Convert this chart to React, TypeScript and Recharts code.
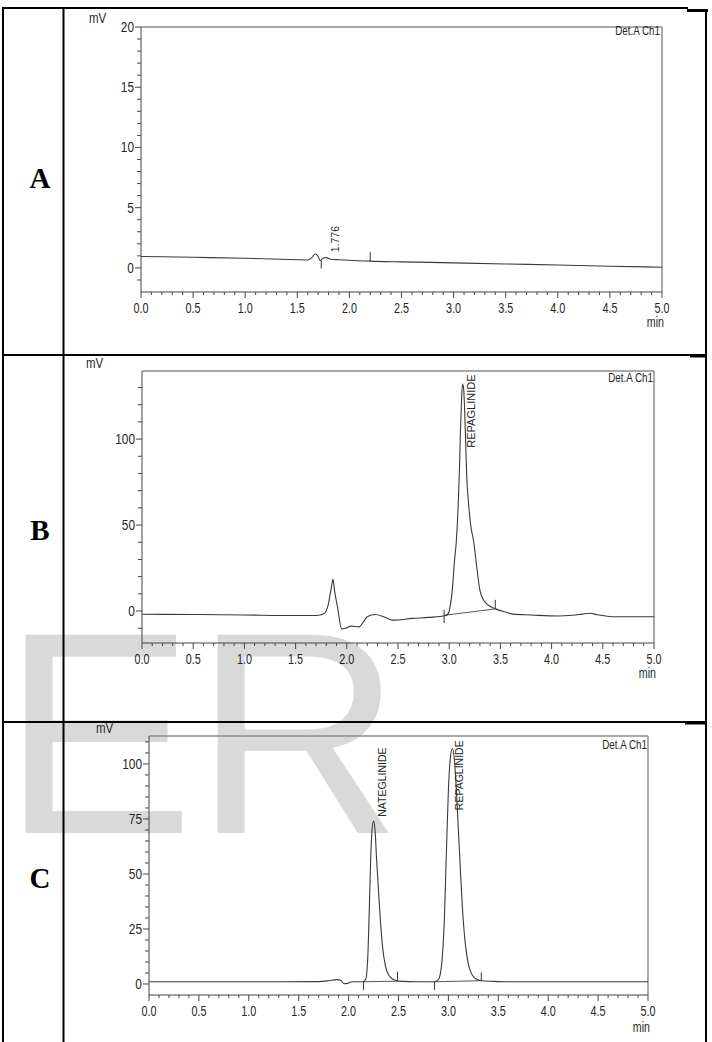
import React from 'react';
import { Line, LineChart, ReferenceDot, ReferenceLine, XAxis, YAxis } from 'recharts';

const SANS = "'Liberation Sans', Arial, sans-serif";
const SERIF = "'Liberation Serif', 'Times New Roman', serif";
const INK = '#262626';
const AXIS = '#444';
const FRAME = '#8c8c8c';

// [retention time (min), signal (mV)]
const traceA: [number, number][] = [
  [0, 0.95], [0.5, 0.88], [1.0, 0.8], [1.5, 0.68], [1.6, 0.66], [1.64, 0.85],
  [1.67, 1.15], [1.7, 0.95], [1.72, 0.6], [1.75, 0.82], [1.78, 0.85], [1.82, 0.72],
  [1.9, 0.68], [2.0, 0.63], [2.2, 0.56], [2.5, 0.5], [3.0, 0.42], [3.5, 0.33],
  [4.0, 0.24], [4.5, 0.14], [5.0, 0.06],
];

const traceB: [number, number][] = [
  [0, -1.9], [0.5, -2.0], [1.0, -2.3], [1.5, -2.6], [1.7, -2.6], [1.78, -1.4],
  [1.82, 4], [1.85, 14], [1.865, 18.6], [1.88, 12], [1.91, 2], [1.95, -10.5],
  [1.99, -10], [2.04, -8.8], [2.12, -9.2], [2.16, -6.5], [2.2, -3.3], [2.28, -2.0],
  [2.36, -3.3], [2.45, -5.3], [2.64, -4.3], [2.8, -3.7], [2.96, -2.8], [2.99, -1.5],
  [3.01, 3], [3.03, 12], [3.05, 28], [3.07, 41], [3.09, 65], [3.1, 82], [3.11, 105],
  [3.12, 122], [3.13, 132], [3.14, 130], [3.15, 118], [3.16, 100], [3.17, 80],
  [3.19, 62], [3.21, 50], [3.24, 40], [3.27, 25], [3.3, 12], [3.34, 6], [3.38, 3.5],
  [3.42, 2], [3.46, 1.1], [3.55, -0.6], [3.62, -1.8], [3.8, -2.3], [4.06, -2.9],
  [4.2, -2.5], [4.3, -1.8], [4.37, -1.3], [4.45, -2.2], [4.59, -3.3], [5.0, -3.3],
];

const traceC: [number, number][] = [
  [0, 1.0], [1.0, 1.0], [1.7, 1.1], [1.8, 1.5], [1.88, 2.0], [1.92, 1.7],
  [1.955, 0.1], [1.99, 0.3], [2.04, 1.0], [2.14, 1.0], [2.17, 2], [2.19, 10],
  [2.205, 30], [2.22, 55], [2.235, 70], [2.25, 74], [2.265, 70], [2.28, 57],
  [2.3, 42], [2.32, 28], [2.34, 17], [2.37, 8], [2.41, 3.5], [2.46, 1.8], [2.5, 1.3],
  [2.7, 1.0], [2.86, 1.0], [2.9, 2], [2.93, 8], [2.96, 30], [2.98, 60], [3.0, 88],
  [3.02, 103], [3.04, 107], [3.06, 102], [3.08, 88], [3.1, 70], [3.12, 52],
  [3.14, 35], [3.17, 18], [3.2, 9], [3.24, 4], [3.29, 2], [3.33, 1.5], [3.45, 1.2],
  [3.6, 1.0], [5.0, 1.0],
];

const xMajorTicks = [0, 0.5, 1, 1.5, 2, 2.5, 3, 3.5, 4, 4.5, 5];
const yMajorA = [0, 5, 10, 15, 20];
const yMajorB = [0, 50, 100];
const yMajorC = [0, 25, 50, 75, 100];

const peaksA = [{ name: '1.776', t: 1.86, mV: 1.3 }];
const peaksB = [{ name: 'REPAGLINIDE', t: 3.21, mV: 95 }];
const peaksC = [
  { name: 'NATEGLINIDE', t: 2.34, mV: 76 },
  { name: 'REPAGLINIDE', t: 3.11, mV: 79 },
];

// integration marks: [time, from mV, to mV]
const marksA: [number, number, number][] = [[1.73, 0.6, -0.05], [2.2, 0.55, 1.3]];
const marksB: [number, number, number][] = [[2.95, 0.6, -7], [3.45, 1.7, 6.5]];
const marksC: [number, number, number][] = [
  [2.15, 1, -2.7], [2.49, 1.2, 5.6], [2.86, 1, -2.7], [3.33, 1.4, 5.2],
];

// peak baselines: [t1, mV1, t2, mV2]
const baselinesB: [number, number, number, number][] = [[2.95, -2.5, 3.46, 1.3]];
const baselinesC: [number, number, number, number][] = [
  [2.15, 1.0, 2.49, 1.3], [2.86, 1.0, 3.33, 1.5],
];

const steps = (from: number, to: number, step: number) => {
  const out: number[] = [];
  const n = Math.round((to - from) / step);
  for (let i = 0; i <= n; i++) out.push(+(from + i * step).toFixed(3));
  return out;
};

const xTicks = steps(0, 5, 0.1);
const isIn = (list: number[], v: number) => list.some((m) => Math.abs(m - v) < 1e-6);

function Squeeze({ x, y, size, sx = 0.8, anchor = 'start', children }: any) {
  return (
    <text
      transform={`translate(${x} ${y}) scale(${sx} 1)`}
      fontSize={size}
      fontFamily={SANS}
      textAnchor={anchor}
      fill={INK}
    >
      {children}
    </text>
  );
}

interface Box { x: number; y: number; w: number; h: number }
interface Plot { left: number; right: number; top: number; bottom: number }

interface ChromProps {
  box: Box;
  plot: Plot;
  trace: [number, number][];
  yDomain: [number, number];
  yTicks: number[];
  yMajor: number[];
  peaks: { name: string; t: number; mV: number }[];
  marks: [number, number, number][];
  baselines: [number, number, number, number][];
  minDy: number;
  peakFont: number;
}

function Chromatogram({
  box, plot, trace, yDomain, yTicks, yMajor, peaks, marks, baselines, minDy, peakFont,
}: ChromProps) {
  const data = trace.map(([t, mV]) => ({ t, mV }));

  const renderX = (p: any) => {
    const { x, y, payload } = p;
    const v = payload.value;
    const major = isIn(xMajorTicks, v);
    return (
      <g>
        <line x1={x} x2={x} y1={y} y2={y + (major ? 6 : 3)} stroke={AXIS} />
        {major && (
          <Squeeze x={x} y={y + 21} size={15} sx={0.72} anchor="middle">
            {v.toFixed(1)}
          </Squeeze>
        )}
        {Math.abs(v - 5) < 1e-6 && (
          <Squeeze x={x + 2} y={y + minDy} size={14} sx={0.76} anchor="end">
            min
          </Squeeze>
        )}
      </g>
    );
  };

  const renderY = (p: any) => {
    const { x, y, payload } = p;
    const major = isIn(yMajor, payload.value);
    return (
      <g>
        <line x1={x - (major ? 6 : 4)} x2={x} y1={y} y2={y} stroke={AXIS} />
        {major && (
          <Squeeze x={x - 7} y={y + 5} size={14} sx={0.85} anchor="end">
            {payload.value}
          </Squeeze>
        )}
      </g>
    );
  };

  return (
    <div style={{ position: 'absolute', left: box.x, top: box.y }}>
      <LineChart
        width={box.w}
        height={box.h}
        data={data}
        margin={{ top: plot.top - box.y, right: box.x + box.w - plot.right, left: 0, bottom: 0 }}
      >
        <XAxis
          dataKey="t"
          type="number"
          domain={[0, 5]}
          ticks={xTicks}
          interval={0}
          allowDataOverflow
          height={box.y + box.h - plot.bottom}
          tickSize={0}
          tickMargin={0}
          tickLine={false}
          axisLine={{ stroke: AXIS }}
          tick={renderX}
        />
        <YAxis
          type="number"
          domain={yDomain}
          ticks={yTicks}
          interval={0}
          allowDataOverflow
          width={plot.left - box.x}
          tickSize={0}
          tickMargin={0}
          tickLine={false}
          axisLine={{ stroke: AXIS }}
          tick={renderY}
        />
        <ReferenceLine y={yDomain[1]} stroke={FRAME} strokeWidth={1.5} />
        <ReferenceLine x={5} stroke={FRAME} strokeWidth={1.5} />
        {baselines.map(([t1, v1, t2, v2], i) => (
          <ReferenceLine
            key={`b${i}`}
            segment={[{ x: t1, y: v1 }, { x: t2, y: v2 }]}
            stroke="#555"
          />
        ))}
        {marks.map(([t, a, b], i) => (
          <ReferenceLine
            key={`m${i}`}
            segment={[{ x: t, y: a }, { x: t, y: b }]}
            stroke="#333"
          />
        ))}
        <Line
          dataKey="mV"
          type="monotone"
          dot={false}
          stroke="#3a3a3a"
          strokeWidth={1.1}
          isAnimationActive={false}
        />
        {peaks.map((pk) => (
          <ReferenceDot
            key={pk.name + pk.t}
            x={pk.t}
            y={pk.mV}
            r={0}
            shape={(s: any) => (
              <text
                x={s.cx}
                y={s.cy}
                transform={`rotate(-90 ${s.cx} ${s.cy})`}
                dy="0.36em"
                fontSize={peakFont}
                fontFamily={SANS}
                fill={INK}
              >
                {pk.name}
              </text>
            )}
          />
        ))}
      </LineChart>
    </div>
  );
}

function Overlay() {
  const line = { stroke: '#000', strokeWidth: 2 };
  return (
    <svg
      width={712}
      height={1042}
      style={{ position: 'absolute', left: 0, top: 0, pointerEvents: 'none' }}
    >
      {/* table rules */}
      <line x1={2} x2={688} y1={8} y2={8} {...line} />
      <line x1={687} x2={708} y1={10.5} y2={10.5} stroke="#000" strokeWidth={3} />
      <line x1={3} x2={3} y1={7} y2={1042} {...line} />
      <line x1={63.5} x2={63.5} y1={7} y2={1042} {...line} />
      <line x1={706} x2={706} y1={9} y2={1042} {...line} />
      <line x1={2} x2={707} y1={355} y2={355} {...line} />
      <line x1={690} x2={707} y1={356} y2={356} stroke="#000" strokeWidth={3} />
      <line x1={2} x2={707} y1={722} y2={722} {...line} />
      <line x1={685} x2={707} y1={723} y2={723} stroke="#000" strokeWidth={3} />

      {/* row labels */}
      <text x={40} y={188} textAnchor="middle" fontSize={29} fontWeight="bold" fontFamily={SERIF}>A</text>
      <text x={40} y={540} textAnchor="middle" fontSize={29} fontWeight="bold" fontFamily={SERIF}>B</text>
      <text x={40} y={888} textAnchor="middle" fontSize={29} fontWeight="bold" fontFamily={SERIF}>C</text>

      {/* axis units and detector tags */}
      <Squeeze x={89} y={23} size={14} sx={0.82}>mV</Squeeze>
      <Squeeze x={660} y={35} size={12} sx={0.82} anchor="end">Det.A Ch1</Squeeze>
      <Squeeze x={86} y={368} size={14} sx={0.82}>mV</Squeeze>
      <Squeeze x={653} y={382} size={12} sx={0.82} anchor="end">Det.A Ch1</Squeeze>
      <Squeeze x={96} y={733} size={14} sx={0.82}>mV</Squeeze>
      <Squeeze x={647} y={749} size={12} sx={0.82} anchor="end">Det.A Ch1</Squeeze>
    </svg>
  );
}

export default function App() {
  return (
    <div
      style={{
        position: 'absolute',
        left: 0,
        top: 0,
        width: 712,
        height: 1042,
        overflow: 'hidden',
        background: '#fff',
      }}
    >
      <svg width={712} height={1042} style={{ position: 'absolute', left: 0, top: 0 }}>
        <text x={2} y={833} fontSize={288} fontFamily={SANS} fill="#d9d9d9">ER</text>
      </svg>

      <Chromatogram
        box={{ x: 64, y: 9, w: 642, h: 345 }}
        plot={{ left: 141, right: 662, top: 27, bottom: 292 }}
        trace={traceA}
        yDomain={[-2, 20]}
        yTicks={steps(-1, 20, 1)}
        yMajor={yMajorA}
        peaks={peaksA}
        marks={marksA}
        baselines={[]}
        minDy={35}
        peakFont={10.5}
      />
      <Chromatogram
        box={{ x: 64, y: 356, w: 642, h: 365 }}
        plot={{ left: 142, right: 654, top: 371, bottom: 643 }}
        trace={traceB}
        yDomain={[-18.6, 139.6]}
        yTicks={steps(-10, 130, 10)}
        yMajor={yMajorB}
        peaks={peaksB}
        marks={marksB}
        baselines={baselinesB}
        minDy={35}
        peakFont={11}
      />
      <Chromatogram
        box={{ x: 64, y: 723, w: 642, h: 319 }}
        plot={{ left: 149, right: 648, top: 736, bottom: 995 }}
        trace={traceC}
        yDomain={[-5, 112.7]}
        yTicks={steps(0, 110, 5)}
        yMajor={yMajorC}
        peaks={peaksC}
        marks={marksC}
        baselines={baselinesC}
        minDy={37}
        peakFont={10.5}
      />

      <Overlay />
    </div>
  );
}
